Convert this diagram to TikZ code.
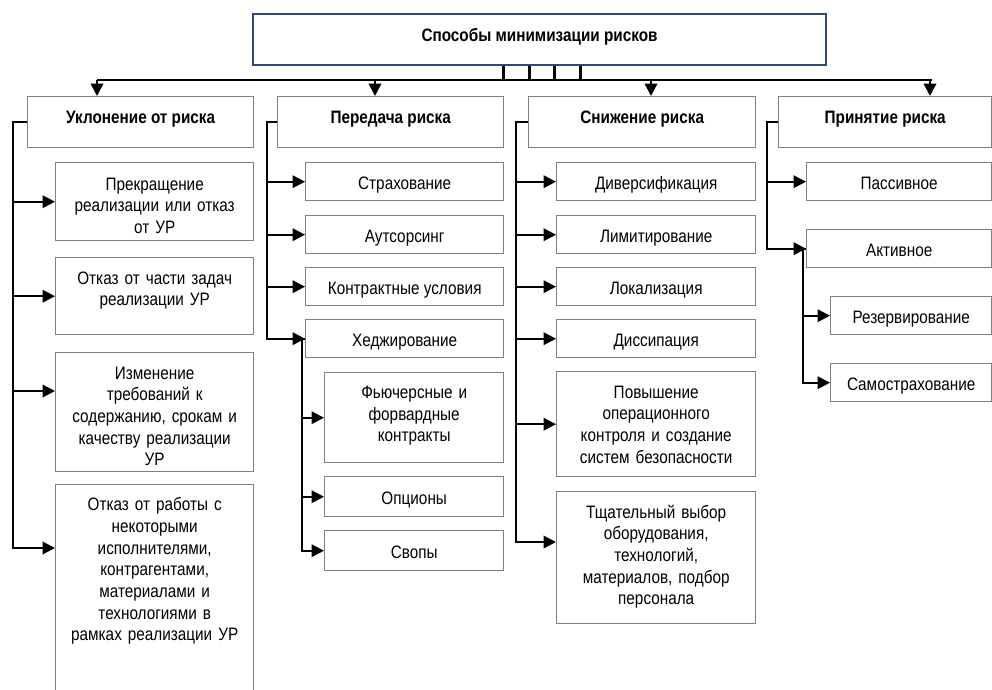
\documentclass[tikz,border=0pt]{standalone}
\usepackage{fontspec}
\setmainfont{Liberation Sans}[FakeStretch=0.85]
\usetikzlibrary{arrows.meta}
\definecolor{boxgray}{HTML}{808080}
\definecolor{mainblue}{HTML}{2E4A7A}

\tikzset{
  box/.style={draw=boxgray, line width=1.4pt, anchor=north west, inner sep=2pt,
    align=center, font=\fontsize{18}{21.7}\selectfont},
  onerow/.style={box, text height=15pt, text depth=0pt},
  multiline/.style={box, text width=186pt, text height=0pt, text depth=#1},
  headbox/.style={box, font=\fontsize{18}{21.7}\selectfont\bfseries, text height=3pt, text depth=0pt},
  conn/.style={line width=2.2pt},
  arrow/.style={conn, -{Triangle[length=12.5pt,width=12.5pt]}}
}

\begin{document}
\begin{tikzpicture}[x=1pt,y=-1pt]
      \useasboundingbox (0,0) rectangle (992,689) ;
      \node[headbox, draw=mainblue, line width=2pt, minimum width=573, minimum height=51, text height=4pt] %
      (main) at (252,13) {Способы минимизации рисков} ;
      \node[headbox, minimum width=226, minimum height=51] (avoid) at (27,96) {Уклонение от риска} ;
      \node[headbox, minimum width=226, minimum height=51] (transfer) at (277,96) {Передача риска} ;
      \node[headbox, minimum width=227, minimum height=51] (reduce) at (528,96) {Снижение риска} ;
      \node[headbox, minimum width=213, minimum height=51] (accept) at (778,96) {Принятие риска} ;
      % уклонение
      \node[multiline=23.4pt, minimum width=198, minimum height=78] (a1) at (55,162) %
      {Прекращение\\реализации или отказ\\от УР} ;
      \node[multiline=24.4pt, minimum width=198, minimum height=77] (a2) at (55,257) %
      {Отказ от части задач\\реализации УР} ;
      \node[multiline=66.4pt, minimum width=198, minimum height=119] (a3) at (55,352) %
      {Изменение\\требований к\\содержанию, срокам и\\качеству реализации\\УР} ;
      \node[multiline=164pt, minimum width=198, minimum height=216] (a4) at (55,484) %
      {Отказ от работы с\\некоторыми\\исполнителями,\\контрагентами,\\материалами и\\технологиями в\\рамках реализации УР} ;
      % передача
      \node[onerow, minimum width=198, minimum height=38] (t1) at (305,162) {Страхование} ;
      \node[onerow, minimum width=198, minimum height=38] (t2) at (305,215) {Аутсорсинг} ;
      \node[onerow, minimum width=198, minimum height=38] (t3) at (305,267) {Контрактные условия} ;
      \node[onerow, minimum width=198, minimum height=38] (t4) at (305,319) {Хеджирование} ;
      \node[multiline=38.6pt, text width=165pt, minimum width=179, minimum height=90] (h1) at (324,372) %
      {Фьючерсные и\\форвардные\\контракты} ;
      \node[onerow, minimum width=179, minimum height=40] (h2) at (324,476) {Опционы} ;
      \node[onerow, minimum width=179, minimum height=40] (h3) at (324,530) {Свопы} ;
      % снижение
      \node[onerow, minimum width=199, minimum height=38] (r1) at (556,162) {Диверсификация} ;
      \node[onerow, minimum width=199, minimum height=38] (r2) at (556,215) {Лимитирование} ;
      \node[onerow, minimum width=199, minimum height=38] (r3) at (556,267) {Локализация} ;
      \node[onerow, minimum width=199, minimum height=38] (r4) at (556,319) {Диссипация} ;
      \node[multiline=52.4pt, minimum width=199, minimum height=105] (r5) at (556,371) %
      {Повышение\\операционного\\контроля и создание\\систем безопасности} ;
      \node[multiline=79.4pt, minimum width=199, minimum height=132] (r6) at (556,491) %
      {Тщательный выбор\\оборудования,\\технологий,\\материалов, подбор\\персонала} ;
      % принятие
      \node[onerow, minimum width=185, minimum height=38] (p1) at (806,162) {Пассивное} ;
      \node[onerow, minimum width=185, minimum height=38] (p2) at (806,229) {Активное} ;
      \node[onerow, minimum width=161, minimum height=38] (p3) at (830,296) {Резервирование} ;
      \node[onerow, minimum width=161, minimum height=38] (p4) at (830,363) {Самострахование} ;

      \coordinate (bus) at (538,80) ;
      \foreach \dx in {-36,-10,15,41}
        \draw[conn] ([xshift=\dx pt]main.south) -- ([xshift=\dx pt]main.south |- bus) ;
      \draw[conn] ([xshift=70pt]avoid.north west |- bus) -- ([xshift=154pt]accept.north west |- bus) ;
      \foreach \n/\dx in {avoid/70,transfer/98,reduce/123,accept/152}
        \draw[arrow] ([xshift=\dx pt]\n.north west |- bus) -- ([xshift=\dx pt]\n.north west) ;

      \foreach \t in {a1.west,a2.west}
        \draw[arrow] (avoid.west) -- ++(-14,0) |- (\t) ;
      \draw[arrow] (avoid.west) -- ++(-14,0) |- ([yshift=-39pt]a3.north west) ;
      \draw[arrow] (avoid.west) -- ++(-14,0) |- ([yshift=-64pt]a4.north west) ;
      \foreach \t in {t1,t2,t3,t4}
        \draw[arrow] (transfer.west) -- ++(-10,0) |- (\t.west) ;
      \foreach \t in {h1,h2,h3}
        \draw[arrow] (t4.west) -- ++(-3,0) |- (\t.west) ;
      \foreach \t in {r1,r2,r3,r4,r5}
        \draw[arrow] (reduce.west) -- ++(-12,0) |- (\t.west) ;
      \draw[arrow] (reduce.west) -- ++(-12,0) |- ([yshift=-51pt]r6.north west) ;
      \foreach \t in {p1,p2}
        \draw[arrow] (accept.west) -- ++(-11,0) |- (\t.west) ;
      \foreach \t in {p3,p4}
        \draw[arrow] (p2.west) -- ++(-3,0) |- (\t.west) ;
\end{tikzpicture}
\end{document}
